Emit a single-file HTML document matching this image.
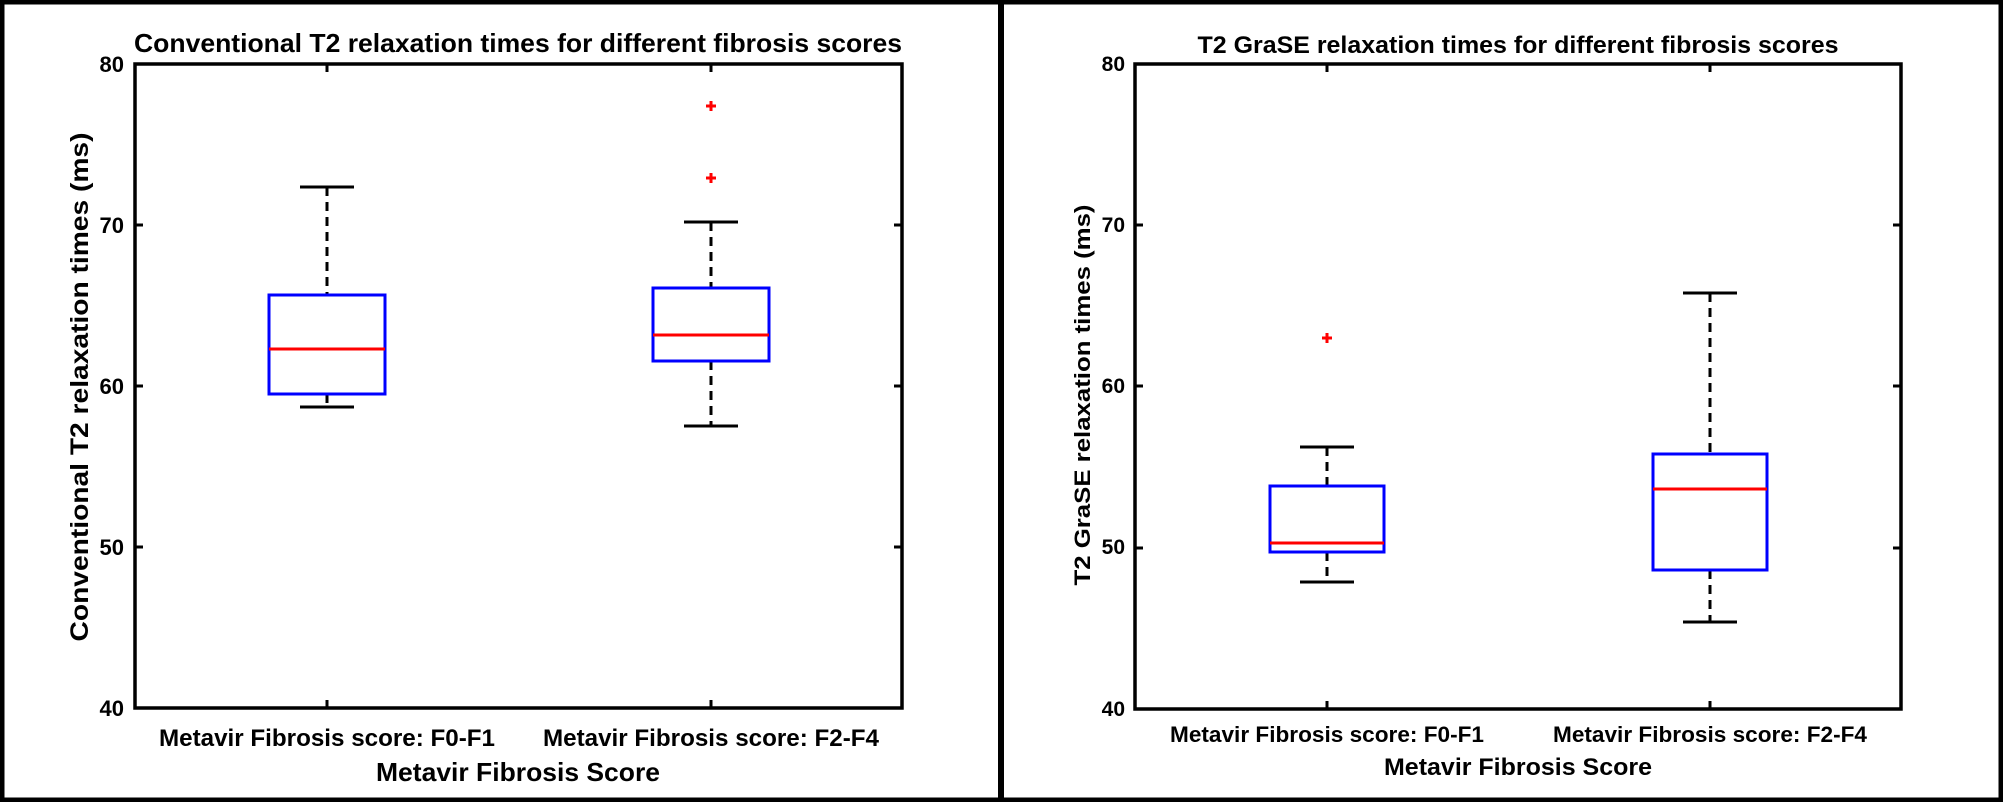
<!DOCTYPE html>
<html><head><meta charset="utf-8"><style>html,body{margin:0;padding:0;background:#fff}svg{display:block}</style></head>
<body>
<svg width="2003" height="802" xmlns="http://www.w3.org/2000/svg" font-family="Liberation Sans, Arial, sans-serif" font-weight="bold">
<rect x="0" y="0" width="2003" height="802" fill="#fff"/>
<rect x="2" y="2" width="1999" height="798" fill="none" stroke="#000" stroke-width="5"/>
<rect x="998" y="0" width="6" height="802" fill="#000"/>

<g>
<text x="518" y="52" font-size="26" text-anchor="middle" textLength="768" lengthAdjust="spacingAndGlyphs">Conventional T2 relaxation times for different fibrosis scores</text>
<g font-size="22" text-anchor="end">
<text x="124" y="72">80</text><text x="124" y="233">70</text><text x="124" y="394">60</text><text x="124" y="555">50</text><text x="124" y="716">40</text>
</g>
<text transform="translate(88,387) rotate(-90)" font-size="25" text-anchor="middle" textLength="509" lengthAdjust="spacingAndGlyphs">Conventional T2 relaxation times (ms)</text>
<text x="327" y="746" font-size="24" text-anchor="middle" textLength="336" lengthAdjust="spacingAndGlyphs">Metavir Fibrosis score: F0-F1</text>
<text x="711" y="746" font-size="24" text-anchor="middle" textLength="336" lengthAdjust="spacingAndGlyphs">Metavir Fibrosis score: F2-F4</text>
<text x="518" y="781" font-size="26" text-anchor="middle" textLength="284" lengthAdjust="spacingAndGlyphs">Metavir Fibrosis Score</text>
<g stroke="#000" stroke-width="3">
<line x1="135" y1="225" x2="143" y2="225"/><line x1="135" y1="386" x2="143" y2="386"/><line x1="135" y1="547" x2="143" y2="547"/>
<line x1="902" y1="225" x2="894" y2="225"/><line x1="902" y1="386" x2="894" y2="386"/><line x1="902" y1="547" x2="894" y2="547"/>
<line x1="327" y1="64" x2="327" y2="72"/><line x1="711" y1="64" x2="711" y2="72"/>
<line x1="327" y1="708" x2="327" y2="700"/><line x1="711" y1="708" x2="711" y2="700"/>
</g>
<rect x="135" y="64" width="767" height="644" fill="none" stroke="#000" stroke-width="3.5"/>
<g stroke-width="3" fill="none">
<line x1="327" y1="187" x2="327" y2="295" stroke="#000" stroke-dasharray="9,6"/>
<line x1="327" y1="394" x2="327" y2="407" stroke="#000" stroke-dasharray="9,6"/>
<line x1="300" y1="187" x2="354" y2="187" stroke="#000"/>
<line x1="300" y1="407" x2="354" y2="407" stroke="#000"/>
<rect x="269" y="295" width="116" height="99" stroke="#00f"/>
<line x1="269" y1="349" x2="385" y2="349" stroke="#f00"/>
<line x1="711" y1="222" x2="711" y2="288" stroke="#000" stroke-dasharray="9,6"/>
<line x1="711" y1="361" x2="711" y2="426" stroke="#000" stroke-dasharray="9,6"/>
<line x1="684" y1="222" x2="738" y2="222" stroke="#000"/>
<line x1="684" y1="426" x2="738" y2="426" stroke="#000"/>
<rect x="653" y="288" width="116" height="73" stroke="#00f"/>
<line x1="653" y1="335" x2="769" y2="335" stroke="#f00"/>
<path d="M706 106h10M711 101v10M706 178h10M711 173v10" stroke="#f00"/>
</g>
</g>

<g>
<text x="1518" y="53" font-size="24" text-anchor="middle" textLength="641" lengthAdjust="spacingAndGlyphs">T2 GraSE relaxation times for different fibrosis scores</text>
<g font-size="21" text-anchor="end">
<text x="1125" y="71">80</text><text x="1125" y="232">70</text><text x="1125" y="393">60</text><text x="1125" y="554">50</text><text x="1125" y="716">40</text>
</g>
<text transform="translate(1090,395) rotate(-90)" font-size="22" text-anchor="middle" textLength="381" lengthAdjust="spacingAndGlyphs">T2 GraSE relaxation times (ms)</text>
<text x="1327" y="742" font-size="22" text-anchor="middle" textLength="314" lengthAdjust="spacingAndGlyphs">Metavir Fibrosis score: F0-F1</text>
<text x="1710" y="742" font-size="22" text-anchor="middle" textLength="314" lengthAdjust="spacingAndGlyphs">Metavir Fibrosis score: F2-F4</text>
<text x="1518" y="775" font-size="24" text-anchor="middle" textLength="268" lengthAdjust="spacingAndGlyphs">Metavir Fibrosis Score</text>
<g stroke="#000" stroke-width="3">
<line x1="1135" y1="225" x2="1143" y2="225"/><line x1="1135" y1="386" x2="1143" y2="386"/><line x1="1135" y1="548" x2="1143" y2="548"/>
<line x1="1901" y1="225" x2="1893" y2="225"/><line x1="1901" y1="386" x2="1893" y2="386"/><line x1="1901" y1="548" x2="1893" y2="548"/>
<line x1="1327" y1="64" x2="1327" y2="72"/><line x1="1710" y1="64" x2="1710" y2="72"/>
<line x1="1327" y1="709" x2="1327" y2="701"/><line x1="1710" y1="709" x2="1710" y2="701"/>
</g>
<rect x="1135" y="64" width="766" height="645" fill="none" stroke="#000" stroke-width="3.5"/>
<g stroke-width="3" fill="none">
<line x1="1327" y1="447" x2="1327" y2="486" stroke="#000" stroke-dasharray="9,6"/>
<line x1="1327" y1="552" x2="1327" y2="582" stroke="#000" stroke-dasharray="9,6"/>
<line x1="1300" y1="447" x2="1354" y2="447" stroke="#000"/>
<line x1="1300" y1="582" x2="1354" y2="582" stroke="#000"/>
<rect x="1270" y="486" width="114" height="66" stroke="#00f"/>
<line x1="1270" y1="543" x2="1384" y2="543" stroke="#f00"/>
<line x1="1710" y1="293" x2="1710" y2="454" stroke="#000" stroke-dasharray="9,6"/>
<line x1="1710" y1="570" x2="1710" y2="622" stroke="#000" stroke-dasharray="9,6"/>
<line x1="1683" y1="293" x2="1737" y2="293" stroke="#000"/>
<line x1="1683" y1="622" x2="1737" y2="622" stroke="#000"/>
<rect x="1653" y="454" width="114" height="116" stroke="#00f"/>
<line x1="1653" y1="489" x2="1767" y2="489" stroke="#f00"/>
<path d="M1322 338h10M1327 333v10" stroke="#f00"/>
</g>
</g>
</svg>
</body></html>
